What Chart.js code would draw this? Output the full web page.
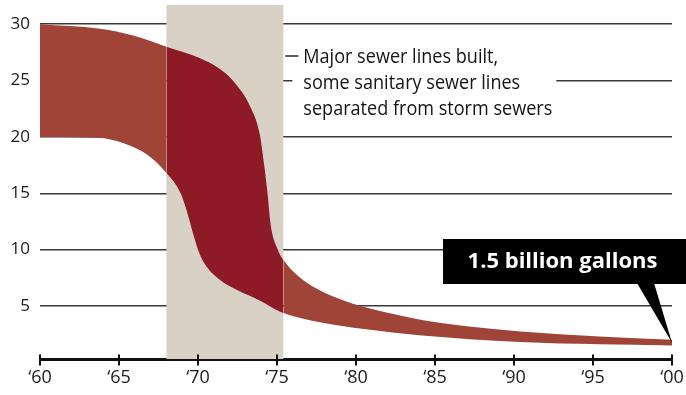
<!DOCTYPE html>
<html>
<head>
<meta charset="utf-8">
<script src="https://cdn.jsdelivr.net/npm/chart.js@4.4.1/dist/chart.umd.min.js"></script>
<style>
  html, body { margin: 0; padding: 0; background: #fff; }
  #wrap { width: 686px; height: 395px; position: relative; }
</style>
</head>
<body>
<div id="wrap"><canvas id="chart" width="686" height="395"></canvas></div>
<script>
// Upper and lower edge of the overflow band, billions of gallons per year
const upperYears  = [1960, 1963.8, 1965.9, 1968, 1970.1, 1971.2, 1972.2, 1973.3, 1973.9, 1974.2, 1974.4, 1974.6, 1975.05, 1975.4, 1976.65, 1977.7, 1978.8, 1979.8, 1982, 1984, 1987, 1990.4, 1995.4, 2000];
const upperValues = [30.0, 29.6, 29.0, 28.0, 27.0, 26.2, 25.0, 22.7, 20.3, 17.4, 15.0, 12.2, 10.0, 9.1, 7.3, 6.4, 5.7, 5.2, 4.4, 3.8, 3.2, 2.75, 2.3, 2.0];
const lowerYears  = [1960, 1963.8, 1965.9, 1967, 1968, 1968.9, 1969.4, 1969.65, 1970, 1970.4, 1971.4, 1972.5, 1973.9, 1975.2, 1976.6, 1978.8, 1980.9, 1984, 1990.4, 1995.4, 2000];
const lowerValues = [20.0, 19.9, 19.1, 18.2, 16.8, 15.0, 12.9, 11.6, 10.0, 8.8, 7.3, 6.4, 5.5, 4.5, 3.9, 3.3, 2.9, 2.4, 1.8, 1.6, 1.5];

// Construction period shaded behind the band
const buildPeriod = [1968, 1975.4];

const xTickValues = [1960, 1965, 1970, 1975, 1980, 1985, 1990, 1995, 2000];
const yTickValues = [5, 10, 15, 20, 25, 30];

const noteLines = ['Major sewer lines built,', 'some sanitary sewer lines', 'separated from storm sewers'];
const calloutText = '1.5 billion gallons';

const FONT = "'Open Sans', 'Noto Sans', sans-serif";
const BAND = '#a14438';
const BAND_DARK = '#8e1a25';
const SHADE = '#d9d1c6';

const toPoints = (xs, ys) => xs.map((x, i) => ({ x: x, y: ys[i] }));
const inPeriod = c => c.p0.parsed.x >= buildPeriod[0] - 1e-6 && c.p1.parsed.x <= buildPeriod[1] + 1e-6;

// Shaded construction period, drawn under the band
const shadePlugin = {
  id: 'shade',
  beforeDatasetsDraw(chart) {
    const { ctx, chartArea, scales: { x } } = chart;
    const x0 = x.getPixelForValue(buildPeriod[0]);
    const x1 = x.getPixelForValue(buildPeriod[1]);
    ctx.save();
    ctx.fillStyle = SHADE;
    ctx.fillRect(x0, chartArea.top, x1 - x0, chartArea.bottom - chartArea.top);
    ctx.restore();
  }
};

function fitScale(ctx, text, maxW) {
  const w = ctx.measureText(text).width;
  return Math.min(1, maxW / w);
}

// Axis tick marks, note text and end-value callout
const overlayPlugin = {
  id: 'overlay',
  afterDraw(chart) {
    const { ctx, scales: { x, y } } = chart;
    ctx.save();

    // tick marks crossing the x axis line
    const axisY = x.top + 1.5;
    ctx.strokeStyle = '#111';
    ctx.lineWidth = 2;
    xTickValues.forEach(v => {
      const px = Math.round(x.getPixelForValue(v));
      ctx.beginPath();
      ctx.moveTo(px, axisY - 6);
      ctx.lineTo(px, axisY + 5);
      ctx.stroke();
    });

    // note beside the shaded period
    const shadeRight = x.getPixelForValue(buildPeriod[1]);
    const textLeft = shadeRight + 20;
    ctx.fillStyle = '#fff';
    ctx.fillRect(shadeRight + 9, 40, 264, 82);
    ctx.strokeStyle = '#222';
    ctx.lineWidth = 1.5;
    ctx.beginPath();
    ctx.moveTo(shadeRight + 2, 56);
    ctx.lineTo(shadeRight + 15, 56);
    ctx.stroke();
    ctx.font = '20px ' + FONT;
    ctx.fillStyle = '#141414';
    ctx.textAlign = 'left';
    ctx.textBaseline = 'alphabetic';
    const longest = noteLines.reduce((a, b) => ctx.measureText(a).width > ctx.measureText(b).width ? a : b);
    const s = fitScale(ctx, longest, 249);
    noteLines.forEach((line, i) => {
      ctx.save();
      ctx.translate(textLeft, 63 + i * 26);
      ctx.scale(s, 1);
      ctx.fillText(line, 0, 0);
      ctx.restore();
    });

    // callout box pointing at the 2000 value
    const lastUpper = upperValues[upperValues.length - 1];
    const lastLower = lowerValues[lowerValues.length - 1];
    const tipX = x.getPixelForValue(2000);
    const tipY = y.getPixelForValue((lastUpper + lastLower) / 2);
    const box = { left: 443, top: 239, right: 686, bottom: 284 };
    ctx.fillStyle = '#000';
    ctx.fillRect(box.left, box.top, box.right - box.left, box.bottom - box.top);
    ctx.beginPath();
    ctx.moveTo(tipX - 35, box.bottom - 1);
    ctx.lineTo(tipX - 18, box.bottom - 1);
    ctx.lineTo(tipX, tipY);
    ctx.closePath();
    ctx.fill();
    ctx.font = 'bold 22px ' + FONT;
    ctx.fillStyle = '#fff';
    ctx.textAlign = 'center';
    const cs = fitScale(ctx, calloutText, 199);
    ctx.translate(562.5, 268);
    ctx.scale(cs, 1);
    ctx.fillText(calloutText, 0, 0);

    ctx.restore();
  }
};

new Chart(document.getElementById('chart'), {
  type: 'line',
  data: {
    datasets: [
      {
        data: toPoints(upperYears, upperValues),
        fill: '+1',
        backgroundColor: BAND,
        borderWidth: 0,
        borderColor: 'rgba(0,0,0,0)',
        pointRadius: 0,
        cubicInterpolationMode: 'monotone',
        segment: { backgroundColor: c => inPeriod(c) ? BAND_DARK : BAND }
      },
      {
        data: toPoints(lowerYears, lowerValues),
        fill: false,
        borderWidth: 0,
        borderColor: 'rgba(0,0,0,0)',
        pointRadius: 0,
        cubicInterpolationMode: 'monotone'
      }
    ]
  },
  options: {
    animation: false,
    responsive: false,
    maintainAspectRatio: false,
    layout: { padding: { top: 5, right: 14, left: 0, bottom: 0 } },
    plugins: { legend: { display: false }, tooltip: { enabled: false } },
    scales: {
      x: {
        type: 'linear',
        min: 1960,
        max: 2000,
        afterBuildTicks: s => { s.ticks = xTickValues.map(v => ({ value: v })); },
        afterFit: s => { s.height = 36; s.paddingLeft = 0; s.paddingRight = 0; },
        ticks: {
          callback: v => '\u2018' + String(v).slice(2),
          font: { family: FONT, size: 18 },
          color: '#1a1a1a',
          padding: 8,
          maxRotation: 0,
          autoSkip: false
        },
        grid: { drawOnChartArea: false, drawTicks: false },
        border: { display: true, color: '#111', width: 3 }
      },
      y: {
        min: 0.3,
        max: 31.7,
        z: 1,
        afterBuildTicks: s => { s.ticks = yTickValues.map(v => ({ value: v })); },
        afterFit: s => { s.width = 40; s.paddingTop = 0; s.paddingBottom = 0; },
        ticks: {
          font: { family: FONT, size: 17 },
          color: '#1a1a1a',
          padding: 10
        },
        grid: { color: 'rgba(22,22,22,0.85)', lineWidth: 1.5, drawTicks: false },
        border: { display: false }
      }
    }
  },
  plugins: [shadePlugin, overlayPlugin]
});
</script>
</body>
</html>
